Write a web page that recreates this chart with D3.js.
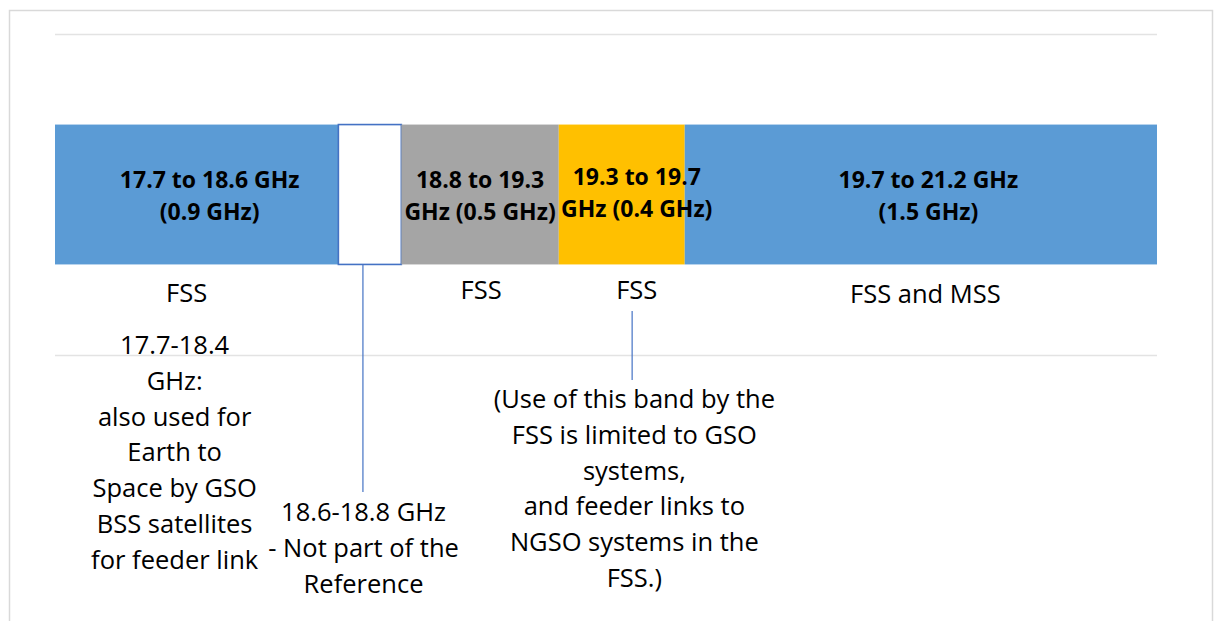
<!DOCTYPE html>
<html><head><meta charset="utf-8">
<script src="https://cdn.jsdelivr.net/npm/d3@7"></script>
<style>html,body{margin:0;padding:0;background:#fff;}svg{display:block;}</style>
</head><body>
<svg id="chart" width="1219" height="621"></svg>
<script>
// ---- data ----
const bandStart = [17.7, 18.6, 18.8, 19.3, 19.7];
const bandEnd   = [18.6, 18.8, 19.3, 19.7, 21.2];
const bandLabels = [
  ["17.7 to 18.6 GHz", "(0.9 GHz)"],
  [],
  ["18.8 to 19.3", "GHz (0.5 GHz)"],
  ["19.3 to 19.7", "GHz (0.4 GHz)"],
  ["19.7 to 21.2 GHz", "(1.5 GHz)"]
];
const serviceLabels = ["FSS", "", "FSS", "FSS", "FSS and MSS"];
const noteBSS = ["17.7-18.4", "GHz:", "also used for", "Earth to", "Space by GSO", "BSS satellites", "for feeder link"];
const noteGap = ["18.6-18.8 GHz", "- Not part of the", "Reference"];
const noteGSO = ["(Use of this band by the", "FSS is limited to GSO", "systems,", "and feeder links to", "NGSO systems in the", "FSS.)"];
const freqDomain = [17.7, 21.2];
const category = ["Ka band"];

// ---- styles ----
const bandFill = ["#5b9bd5", "#ffffff", "#a5a5a5", "#ffc000", "#5b9bd5"];
const FONT = "'Open Sans', Lato, sans-serif";

const svg = d3.select("#chart");
const x = d3.scaleLinear().domain(freqDomain).range([55, 1157]);
const y = d3.scaleBand().domain(category).range([34, 355]).paddingInner(0.393).paddingOuter(0.393);

// chart area border
svg.append("rect").attr("x", 9.5).attr("y", 10.5).attr("width", 1203).attr("height", 700)
  .attr("fill", "none").attr("stroke", "#d9d9d9").attr("stroke-width", 1.5);

// gridlines at category boundaries
svg.append("g").selectAll("line").data(y.range()).join("line")
  .attr("x1", x(freqDomain[0])).attr("x2", x(freqDomain[1]))
  .attr("y1", d => d + 0.5).attr("y2", d => d + 0.5)
  .attr("stroke", "#e3e3e3").attr("stroke-width", 1.3);

const bands = bandStart.map((s, i) => ({s, e: bandEnd[i], i}));
const by = y(category[0]), bh = y.bandwidth();

svg.append("g").selectAll("rect").data(bands).join("rect")
  .attr("x", d => x(d.s)).attr("y", by)
  .attr("width", d => x(d.e) - x(d.s)).attr("height", bh)
  .attr("fill", d => bandFill[d.i])
  .attr("stroke", d => d.i === 1 ? "#4472c4" : "none")
  .attr("stroke-width", 1.6);

// bold band labels
const labelDx = [13, 0, 0, 15, 7.5];
const labelBase = [188, 0, 188, 185, 188];
bands.forEach(d => {
  const cx = (x(d.s) + x(d.e)) / 2 + labelDx[d.i];
  bandLabels[d.i].forEach((t, k) => {
    svg.append("text").attr("x", cx).attr("y", labelBase[d.i] + k * 32)
      .attr("text-anchor", "middle").attr("font-family", FONT).attr("font-weight", "bold")
      .attr("font-size", 23).attr("fill", "#000").text(t);
  });
});

// service labels
const serviceDx = [-10, 0, 1, 15, 4.5];
const serviceBase = [302, 0, 299, 299, 303];
bands.forEach(d => {
  if (!serviceLabels[d.i]) return;
  svg.append("text").attr("x", (x(d.s) + x(d.e)) / 2 + serviceDx[d.i]).attr("y", serviceBase[d.i])
    .attr("text-anchor", "middle").attr("font-family", FONT).attr("font-size", 25.5)
    .attr("fill", "#000").text(serviceLabels[d.i]);
});

// notes
function note(lines, cx, y0) {
  lines.forEach((t, k) => {
    svg.append("text").attr("x", cx).attr("y", y0 + k * 35.8)
      .attr("text-anchor", "middle").attr("font-family", FONT).attr("font-size", 25.5)
      .attr("fill", "#000").text(t);
  });
}
note(noteBSS, x(18.08), 354);
note(noteGap, x(18.68), 521);
note(noteGSO, x(19.54), 408);

// leader lines
const leaders = [
  {f: 18.678, y1: by + bh, y2: 492},
  {f: 19.533, y1: 311, y2: 380}
];
svg.append("g").selectAll("line").data(leaders).join("line")
  .attr("x1", d => x(d.f)).attr("x2", d => x(d.f))
  .attr("y1", d => d.y1).attr("y2", d => d.y2)
  .attr("stroke", "#4472c4").attr("stroke-width", 1.2);
</script>
</body></html>
